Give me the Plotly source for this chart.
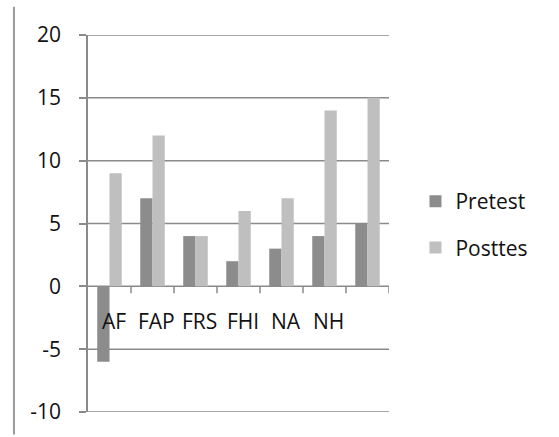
import plotly.graph_objects as go

categories = ["AF", "FAP", "FRS", "FHI", "NA", "NH", ""]
pretest = [-6, 7, 4, 2, 3, 4, 5]
posttes = [9, 12, 4, 6, 7, 14, 15]
series_names = ["Pretest", "Posttes"]
y_ticks = [-10, -5, 0, 5, 10, 15, 20]
y_tick_labels = ["-10", "-5", "0", "5", "10", "15", "20"]

FONT = "Open Sans"
TXT = "#111111"
GRID = "#8a8a8a"

idx = list(range(len(categories)))

fig = go.Figure()
fig.add_trace(go.Bar(x=idx, y=pretest, name=series_names[0],
                     marker=dict(color="#8c8c8c", line=dict(width=0)),
                     legendgroup="a"))
fig.add_trace(go.Bar(x=idx, y=posttes, name=series_names[1],
                     marker=dict(color="#bfbfbf", line=dict(width=0)),
                     legendgroup="b"))

# category labels next to the zero line
for i, c in enumerate(categories):
    if c:
        fig.add_annotation(x=i, y=0, xref="x", yref="y", text=c, showarrow=False,
                           yanchor="top", yshift=-19, xshift=4,
                           font=dict(family=FONT, size=21, color=TXT))
# tick marks on the horizontal axis at category boundaries
for i in idx:
    fig.add_shape(type="line", xref="x", yref="y", x0=i + 0.5, x1=i + 0.5,
                  ysizemode="pixel", yanchor=0, y0=0, y1=-7,
                  line=dict(color=GRID, width=1.5))
# horizontal grid lines incl. the range edges
for v in y_ticks:
    fig.add_shape(type="line", xref="paper", yref="y", x0=0, x1=1, y0=v, y1=v,
                  line=dict(color=GRID, width=1.5), layer="below")
# left border line of the picture
fig.add_shape(type="line", xref="paper", yref="paper",
              x0=-0.246, x1=-0.246, y0=-0.06, y1=1.075,
              line=dict(color="#9a9a9a", width=2))

fig.update_layout(
    width=559, height=437,
    margin=dict(l=88, r=170, t=35, b=25, autoexpand=False),
    paper_bgcolor="white", plot_bgcolor="white",
    barmode="group", bargap=0.43, bargroupgap=0,
    showlegend=True,
    legend=dict(x=1.088, y=0.497, xanchor="left", yanchor="middle",
                font=dict(family=FONT, size=21, color=TXT),
                tracegroupgap=16, itemwidth=30, bgcolor="rgba(0,0,0,0)"),
    font=dict(family=FONT, size=21, color=TXT),
)
fig.update_xaxes(range=[-0.5, len(categories) - 0.5], showgrid=False,
                 showticklabels=False, ticks="", zeroline=False, showline=False,
                 fixedrange=True, automargin=False)
fig.update_yaxes(range=[-10, 20], tickvals=y_ticks, ticktext=y_tick_labels,
                 showgrid=False, zeroline=False, showline=True, linecolor=GRID,
                 linewidth=1.5, ticks="outside", ticklen=7, tickcolor=GRID,
                 tickwidth=1.5, ticklabelstandoff=14, automargin=False,
                 tickfont=dict(family=FONT, size=21, color=TXT), fixedrange=True)

fig.write_html("out.html", config={"displayModeBar": False},
               post_script="document.body.style.margin='0';document.body.style.overflow='hidden';")
